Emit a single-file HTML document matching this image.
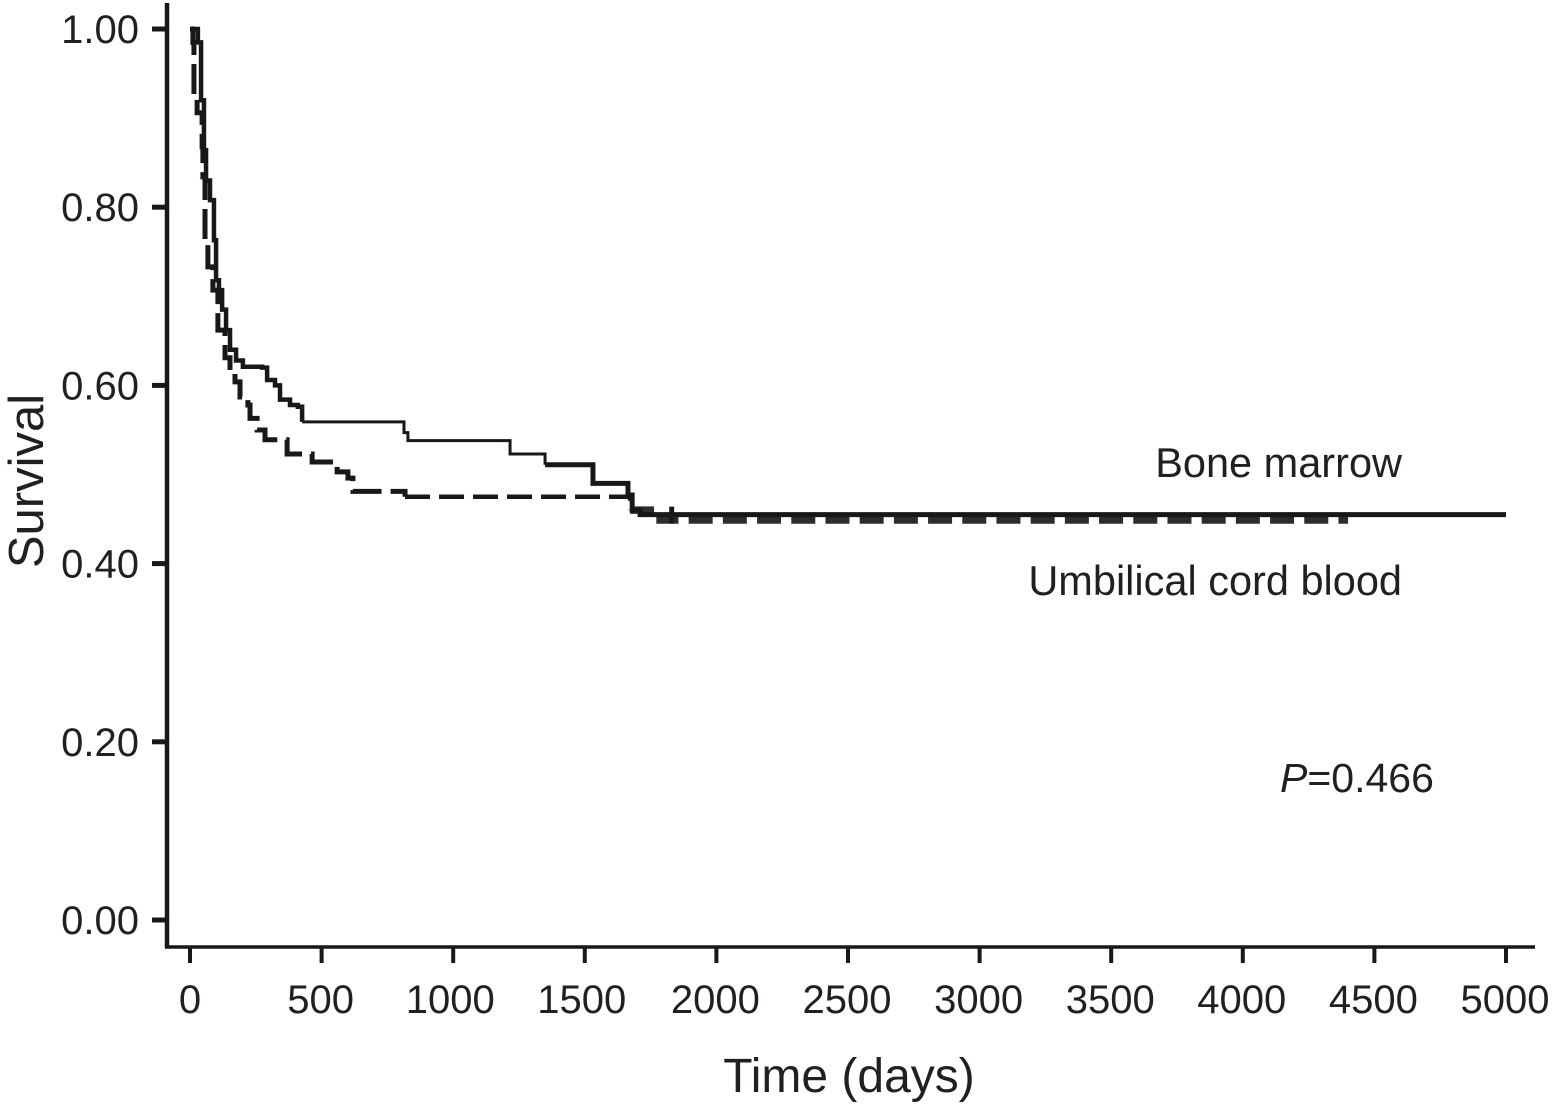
<!DOCTYPE html>
<html>
<head>
<meta charset="utf-8">
<title>Survival curve</title>
<style>
html,body{margin:0;padding:0;background:#fff;}
svg{display:block;}
text{font-family:"Liberation Sans",Arial,sans-serif;fill:#231f20;}
</style>
</head>
<body>
<svg id="chart" width="1554" height="1116" viewBox="0 0 1554 1116" xmlns="http://www.w3.org/2000/svg">
  <rect x="0" y="0" width="1554" height="1116" fill="#fff"/>
  <line x1="167" y1="3" x2="167" y2="948" stroke="#1a1718" stroke-width="4.5"/>
  <line x1="165" y1="947" x2="1535" y2="947" stroke="#1a1718" stroke-width="3.5"/>
  <g id="y-ticks"></g>
  <g id="x-ticks"></g>
  <g id="series"></g>
  <text transform="translate(43,481) rotate(-90)" text-anchor="middle" font-size="49">Survival</text>
  <text x="849" y="1092" text-anchor="middle" font-size="48">Time (days)</text>
  <text x="1402" y="477" text-anchor="end" font-size="41.5">Bone marrow</text>
  <text x="1402" y="595" text-anchor="end" font-size="41.5">Umbilical cord blood</text>
  <text x="1280" y="792" font-size="41"><tspan font-style="italic">P</tspan>=0.466</text>
</svg>
<script>
const xTickValues = [0, 500, 1000, 1500, 2000, 2500, 3000, 3500, 4000, 4500, 5000];
const xTickLabels = ["0", "500", "1000", "1500", "2000", "2500", "3000", "3500", "4000", "4500", "5000"];
const yTickValues = [0, 0.2, 0.4, 0.6, 0.8, 1.0];
const yTickLabels = ["0.00", "0.20", "0.40", "0.60", "0.80", "1.00"];

const boneMarrowDays = [0, 30, 42, 53, 61, 76, 91, 99, 110, 122, 137, 152, 175, 201, 274, 293, 323, 342, 380, 410, 426, 813, 828, 1216, 1349, 1531, 1664, 1680, 1710, 5000];
const boneMarrowSurvival = [1.00, 0.985, 0.92, 0.864, 0.83, 0.808, 0.763, 0.718, 0.707, 0.685, 0.662, 0.64, 0.628, 0.621, 0.62, 0.606, 0.60, 0.584, 0.578, 0.576, 0.559, 0.547, 0.538, 0.523, 0.511, 0.49, 0.477, 0.46, 0.455, 0.455];

const cordBloodDays = [0, 11, 15, 27, 46, 49, 57, 68, 87, 106, 133, 152, 171, 190, 220, 228, 255, 285, 369, 464, 559, 600, 619, 817, 1672, 1786, 4400];
const cordBloodSurvival = [1.00, 0.985, 0.926, 0.906, 0.868, 0.834, 0.763, 0.733, 0.707, 0.662, 0.631, 0.615, 0.604, 0.587, 0.578, 0.563, 0.55, 0.539, 0.523, 0.514, 0.503, 0.496, 0.481, 0.475, 0.46, 0.449, 0.449];

const censorDays = [1830];
const censorSurvival = [0.455];

const xScale = function (d) { return 190 + d * (1506 - 190) / 5000; };
const yScale = function (s) { return 920 - s * (920 - 29); };
const NS = "http://www.w3.org/2000/svg";

const yTickGroup = document.getElementById("y-ticks");
yTickValues.forEach(function (v, i) {
  const t = document.createElementNS(NS, "line");
  
  
  t.setAttribute("x1", 152);
  t.setAttribute("x2", 167);
  t.setAttribute("y1", yScale(v));
  t.setAttribute("y2", yScale(v));
  t.setAttribute("stroke", "#1a1718");
  t.setAttribute("stroke-width", 5);
  yTickGroup.appendChild(t);
  const l = document.createElementNS(NS, "text");
  
  
  l.setAttribute("x", 139);
  l.setAttribute("y", yScale(v) + 14);
  l.setAttribute("text-anchor", "end");
  l.setAttribute("font-size", 40);
  l.textContent = yTickLabels[i];
  yTickGroup.appendChild(l);
});

const xTickGroup = document.getElementById("x-ticks");
xTickValues.forEach(function (v, i) {
  const t = document.createElementNS(NS, "line");
  
  
  t.setAttribute("x1", xScale(v));
  t.setAttribute("x2", xScale(v));
  t.setAttribute("y1", 947);
  t.setAttribute("y2", 963);
  t.setAttribute("stroke", "#1a1718");
  t.setAttribute("stroke-width", 4);
  xTickGroup.appendChild(t);
  const l = document.createElementNS(NS, "text");
  
  
  l.setAttribute("x", xScale(v) + (v === 0 ? 0 : (xTickLabels[i].charAt(0) === "1" ? -3 : -1)));
  l.setAttribute("y", 1013);
  l.setAttribute("text-anchor", "middle");
  l.setAttribute("font-size", 40);
  l.textContent = xTickLabels[i];
  xTickGroup.appendChild(l);
});

function stepPath(days, surv, fromDay, toDay) {
  let d = "";
  for (let i = 0; i < days.length; i++) {
    if (days[i] < fromDay || days[i] > toDay) continue;
    const x = xScale(days[i]);
    if (d === "") {
      d = "M" + x + " " + yScale(surv[i]);
    } else {
      d += "H" + x + "V" + yScale(surv[i]);
    }
  }
  return d;
}

const seriesGroup = document.getElementById("series");

const cordEarly = document.createElementNS(NS, "path");


cordEarly.setAttribute("d", stepPath(cordBloodDays, cordBloodSurvival, 0, 817));
cordEarly.setAttribute("fill", "none");
cordEarly.setAttribute("stroke", "#1a1718");
cordEarly.setAttribute("stroke-width", 5);
cordEarly.setAttribute("stroke-dasharray", "30 9");
seriesGroup.appendChild(cordEarly);

const cordMiddle = document.createElementNS(NS, "path");


cordMiddle.setAttribute("d", stepPath(cordBloodDays, cordBloodSurvival, 817, 1672));
cordMiddle.setAttribute("fill", "none");
cordMiddle.setAttribute("stroke", "#1a1718");
cordMiddle.setAttribute("stroke-width", 4.5);
cordMiddle.setAttribute("stroke-dasharray", "25 9");
seriesGroup.appendChild(cordMiddle);

const cordLate = document.createElementNS(NS, "path");


cordLate.setAttribute("d", stepPath(cordBloodDays, cordBloodSurvival, 1672, 4400));
cordLate.setAttribute("fill", "none");
cordLate.setAttribute("stroke", "#2e2b2c");
cordLate.setAttribute("stroke-width", 7.5);
cordLate.setAttribute("stroke-dasharray", "24 10.2");
seriesGroup.appendChild(cordLate);

const marrowEarly = document.createElementNS(NS, "path");


marrowEarly.setAttribute("d", stepPath(boneMarrowDays, boneMarrowSurvival, 0, 426));
marrowEarly.setAttribute("fill", "none");
marrowEarly.setAttribute("stroke", "#1a1718");
marrowEarly.setAttribute("stroke-width", 4.5);
seriesGroup.appendChild(marrowEarly);

const marrowMiddle = document.createElementNS(NS, "path");


marrowMiddle.setAttribute("d", stepPath(boneMarrowDays, boneMarrowSurvival, 426, 1349));
marrowMiddle.setAttribute("fill", "none");
marrowMiddle.setAttribute("stroke", "#1a1718");
marrowMiddle.setAttribute("stroke-width", 3);
seriesGroup.appendChild(marrowMiddle);

const marrowLate = document.createElementNS(NS, "path");


marrowLate.setAttribute("d", stepPath(boneMarrowDays, boneMarrowSurvival, 1349, 5000));
marrowLate.setAttribute("fill", "none");
marrowLate.setAttribute("stroke", "#1a1718");
marrowLate.setAttribute("stroke-width", 5);
seriesGroup.appendChild(marrowLate);

censorDays.forEach(function (d, i) {
  const c = document.createElementNS(NS, "line");
  
  
  c.setAttribute("x1", xScale(d));
  c.setAttribute("x2", xScale(d));
  c.setAttribute("y1", yScale(censorSurvival[i]) - 8);
  c.setAttribute("y2", yScale(censorSurvival[i]) + 9);
  c.setAttribute("stroke", "#1a1718");
  c.setAttribute("stroke-width", 5);
  seriesGroup.appendChild(c);
});
</script>
</body>
</html>
